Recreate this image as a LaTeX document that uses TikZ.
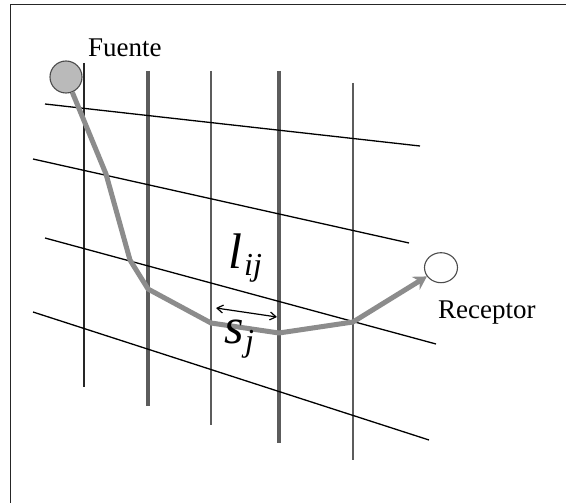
\documentclass[tikz,border=0pt]{standalone}
\usepackage{fontspec}
\setmainfont{Liberation Serif}
\usetikzlibrary{arrows.meta,shapes.geometric}
\definecolor{pathgray}{gray}{0.55}
\definecolor{gridgray}{gray}{0.36}
\tikzset{
  x=1pt,y=-1pt,
  frameline/.style={draw=black!85,line width=1.3pt},
  thinv/.style={draw=black!85,line width=1.1pt},
  midv/.style={draw=gridgray,line width=1.8pt},
  thickv/.style={draw=gridgray,line width=3.2pt},
  hline/.style={draw=black,line width=1.3pt},
  ray/.style={draw=pathgray,line width=5pt,line join=round},
  lbl/.style={font=\fontsize{27}{27}\selectfont,inner sep=0pt,text=black},
  mathlbl/.style={font=\fontsize{50}{50}\selectfont\itshape,inner sep=0pt,text=black},
  sublbl/.style={font=\fontsize{32}{32}\selectfont\itshape,inner sep=0pt,text=black}
}
\begin{document}
\begin{tikzpicture}
\useasboundingbox (0,0) rectangle (566,503);
\fill[white] (0,0) rectangle (566,503);
\draw[frameline] (10.5,503) -- (10.5,4.5) -- (566,4.5);
% vertical
\coordinate (v1t) at (84,63); \coordinate (v1b) at (84,387);
\coordinate (v2t) at (148,71); \coordinate (v2b) at (148,406);
\coordinate (v3t) at (211,71); \coordinate (v3b) at (211,425);
\coordinate (v4t) at (279,71); \coordinate (v4b) at (279,443);
\coordinate (v5t) at (353,83); \coordinate (v5b) at (353,460);
\draw[thinv] (v1t) -- (v1b);
\draw[thickv] (v2t) -- (v2b);
\draw[midv] (v3t) -- (v3b);
\draw[thickv] (v4t) -- (v4b);
\draw[midv] (v5t) -- (v5b);
% slanted
\coordinate (h1a) at (45,104); \coordinate (h1b) at (420,146);
\coordinate (h2a) at (33,159); \coordinate (h2b) at (409,243);
\coordinate (h3a) at (45,238); \coordinate (h3b) at (436,344);
\coordinate (h4a) at (33,312); \coordinate (h4b) at (429,440);
\draw[hline] (h1a) -- (h1b);
\draw[hline] (h2a) -- (h2b);
\draw[hline] (h3a) -- (h3b);
\draw[hline] (h4a) -- (h4b);
% nodes
\node[circle,draw=black!70,fill=black!27,line width=1.1pt,minimum size=32pt,inner sep=0pt] (src) at (66,77) {};
\node[ellipse,draw=black!70,fill=white,line width=1.1pt,minimum width=33pt,minimum height=30pt,inner sep=0pt] (rcv) at (441,267.7) {};
\node[lbl,anchor=base west] (fuente) at (88,56.5) {Fuente};
\node[lbl,anchor=base west] (receptor) at (438,318) {Receptor};
% ray
\draw[ray,-{Stealth[length=13pt,width=15pt]}] (src) -- (106,174) -- (130,260) -- (148,289) -- (211,323) -- (279,333) -- (353,322) -- (rcv);
% arrow
\coordinate (sa) at (216,308); \coordinate (sb) at (277,317);
\draw[{Straight Barb[length=6pt,width=8pt]}-{Straight Barb[length=6pt,width=8pt]},line width=1.2pt] (sa) -- (sb);
% math
\node[mathlbl,anchor=base west] (l) at (228,269) {l};
\node[sublbl,anchor=base west] (ij) at (244,275) {ij};
\node[mathlbl,anchor=base west] (s) at (224,343) {s};
\node[sublbl,anchor=base west] (j) at (245,351) {j};
\end{tikzpicture}
\end{document}
